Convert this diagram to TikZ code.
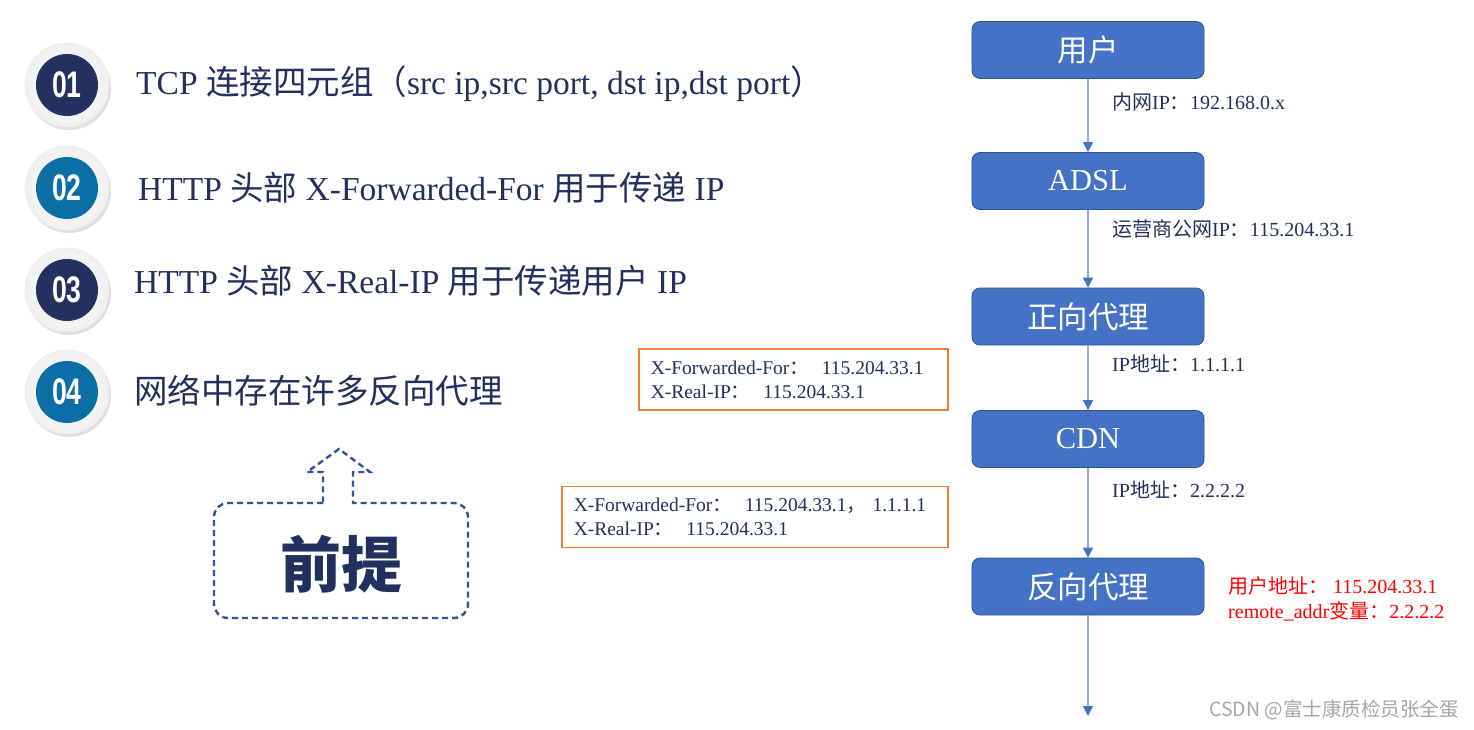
\documentclass[tikz,border=0pt]{standalone}
\usepackage{fontspec}
\usepackage{graphicx}
\setmainfont{Liberation Serif}
\newfontfamily\cjk{Noto Sans CJK SC}
\newfontfamily\numfont{Liberation Sans}
\usetikzlibrary{arrows.meta,shadows}
\definecolor{navy}{HTML}{22305E}
\definecolor{teal}{HTML}{0B6FA6}
\definecolor{dnavy}{HTML}{24305F}
\definecolor{boxblue}{HTML}{4472C4}
\definecolor{boxedge}{HTML}{2F528F}
\definecolor{linkblue}{HTML}{8FAADC}
\definecolor{orange}{HTML}{ED7D31}
\definecolor{dashblue}{HTML}{2F5597}
\newcommand{\zh}[1]{{\cjk #1}}
\newcommand{\narrow}[1]{\scalebox{0.72}[1]{#1}}
\tikzset{
  ring/.style={circle, minimum size=84pt, inner sep=0pt, draw=gray!15, line width=0.6pt,
    shading=radial, inner color=white, outer color=gray!12,
    drop shadow={shadow xshift=2pt, shadow yshift=-3pt, opacity=0.25, fill=gray}},
  badge/.style={circle, minimum size=62pt, inner sep=0pt, fill=#1, text=white,
    font=\numfont\bfseries\fontsize{37}{37}\selectfont},
  mainline/.style={anchor=west, text=navy, font=\fontsize{33.5}{36}\selectfont, inner sep=0pt},
  flowbox/.style={draw=boxedge, line width=0.8pt, fill=boxblue, rounded corners=8pt,
    minimum width=232pt, minimum height=57pt, text=white, font=\fontsize{30.5}{32}\selectfont},
  link/.style={draw=linkblue, line width=1.4pt, -{Triangle[width=10pt,length=10pt,color=boxblue]}},
  iplabel/.style={anchor=west, text=navy, font=\fontsize{20}{22}\selectfont, inner sep=0pt},
  hdrbox/.style={draw=orange, line width=1.5pt, align=left, text=navy, inner xsep=12pt,
    font=\fontsize{19.5}{24}\selectfont, minimum height=61pt, anchor=west},
  redlabel/.style={anchor=west, text=red, align=left, font=\fontsize{20}{25}\selectfont, inner sep=0pt},
}
\begin{document}
\begin{tikzpicture}[x=1pt,y=-1pt]
\useasboundingbox[fill=white] (0,0) rectangle (1474,730);

% badges
\node[ring] (r1) at (67,85) {};
\node[badge=dnavy] (b1) at (67,85) {\narrow{01}};
\node[ring] (r2) at (67,188) {};
\node[badge=teal] (b2) at (67,188) {\narrow{02}};
\node[ring] (r3) at (67,290) {};
\node[badge=dnavy] (b3) at (67,290) {\narrow{03}};
\node[ring] (r4) at (67,392) {};
\node[badge=teal] (b4) at (67,392) {\narrow{04}};

% main lines
\node[mainline] (t1) at (136,84) {TCP \zh{连接四元组（}src ip,src port, dst ip,dst port\zh{）}};
\node[mainline] (t2) at (138,188) {HTTP \zh{头部} X-Forwarded-For \zh{用于传递} IP};
\node[mainline] (t3) at (134,281) {HTTP \zh{头部} X-Real-IP \zh{用于传递用户} IP};
\node[mainline] (t4) at (134,391) {\zh{网络中存在许多反向代理}};

% callout
\draw[dashblue, line width=2.4pt, dash pattern=on 6pt off 4pt]
  (323,503) [rounded corners=14pt] -- (214,503) -- (214,618) -- (468,618) -- (468,503)
  [sharp corners] -- (353,503) -- (353,472) -- (370,472) -- (339,449) -- (307,472) -- (323,472) -- cycle;
\node[text=navy, font=\cjk\bfseries\fontsize{61}{61}\selectfont] (pre) at (341,564) {前提};

% flow
\node[flowbox] (user) at (1088,50) {\zh{用户}};
\node[flowbox] (adsl) at (1088,181) {ADSL};
\node[flowbox] (fwd) at (1088,316.5) {\zh{正向代理}};
\node[flowbox] (cdn) at (1088,439) {CDN};
\node[flowbox] (rev) at (1088,586.5) {\zh{反向代理}};
\coordinate (end) at (1088,716);

\draw[link] (user) -- (adsl);
\draw[link] (adsl) -- (fwd);
\draw[link] (fwd) -- (cdn);
\draw[link] (cdn) -- (rev);
\draw[link] (rev) -- (end);

\node[iplabel] (l1) at (1112,102) {\zh{内网}IP\zh{：}192.168.0.x};
\node[iplabel] (l2) at (1112,229) {\zh{运营商公网}IP\zh{：}115.204.33.1};
\node[iplabel] (l3) at (1112,364) {IP\zh{地址：}1.1.1.1};
\node[iplabel] (l4) at (1112,490) {IP\zh{地址：}2.2.2.2};

\node[hdrbox, text width=285pt] (h1) at (638,379.5) {X-Forwarded-For\zh{：}\ \ 115.204.33.1\\X-Real-IP\zh{：}\ \ 115.204.33.1};
\node[hdrbox, text width=362pt] (h2) at (561,517) {X-Forwarded-For\zh{：}\ \ 115.204.33.1\zh{，}\ 1.1.1.1\\X-Real-IP\zh{：}\ \ 115.204.33.1};

\node[redlabel] (red) at (1228,598.5) {\zh{用户地址：}\ 115.204.33.1\\remote\_addr\zh{变量：}2.2.2.2};

\node[anchor=east, text=gray!70, inner sep=0pt, font=\cjk\fontsize{19.5}{22}\selectfont] (wm) at (1459,710) {CSDN @富士康质检员张全蛋};
\end{tikzpicture}
\end{document}
